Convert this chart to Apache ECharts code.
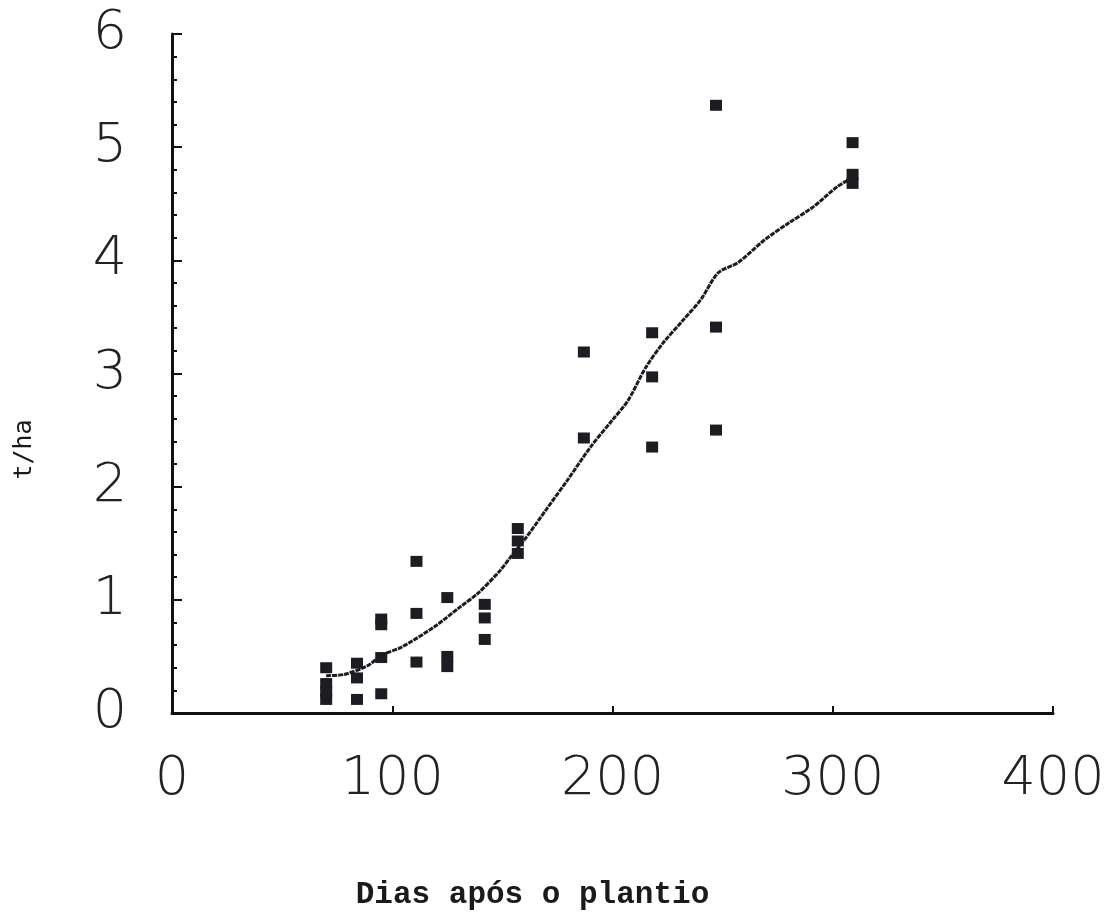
<!DOCTYPE html>
<html>
<head>
<meta charset="utf-8">
<script src="https://cdn.jsdelivr.net/npm/echarts@6/dist/echarts.min.js"></script>
<style>
  html, body { margin: 0; padding: 0; background: #ffffff; }
  #chart { width: 1119px; height: 917px; }
</style>
</head>
<body>
<div id="chart"></div>
<script>
// Observed yields (t/ha) by days after planting
const obsDays = [70, 70, 70, 70, 84, 84, 84, 95, 95, 95, 95, 111, 111, 111,
                 125, 125, 125, 142, 142, 142, 157, 157, 157, 187, 187,
                 218, 218, 218, 247, 247, 247, 309, 309, 309];
const obsYield = [0.40, 0.26, 0.19, 0.12, 0.44, 0.31, 0.12, 0.83, 0.78, 0.49, 0.17,
                  1.34, 0.88, 0.45, 1.02, 0.50, 0.41, 0.96, 0.84, 0.65,
                  1.63, 1.52, 1.41, 3.19, 2.43, 3.36, 2.97, 2.35,
                  5.37, 3.41, 2.50, 5.04, 4.76, 4.68];

// Fitted growth curve
const fitDays = [70, 78, 89, 95, 104, 119, 131, 139, 149, 155, 160, 170, 180, 190,
                 200, 207, 215, 223, 232, 240, 248, 257, 269, 280, 291, 302, 308];
const fitYield = [0.33, 0.34, 0.42, 0.51, 0.58, 0.76, 0.94, 1.06, 1.26, 1.41, 1.53,
                  1.80, 2.07, 2.35, 2.59, 2.76, 3.05, 3.27, 3.47, 3.65, 3.89, 3.98,
                  4.18, 4.33, 4.47, 4.65, 4.72];

const xTicks = [0, 100, 200, 300, 400];
const yTicks = [0, 1, 2, 3, 4, 5, 6];

const chart = echarts.init(document.getElementById('chart'), null, { renderer: 'canvas' });

const tickFont = {
  fontFamily: 'DejaVu Sans',
  fontWeight: 200,
  fontSize: 54,
  color: '#222222'
};

chart.setOption({
  backgroundColor: '#ffffff',
  animation: false,
  grid: { left: 172, right: 66, top: 34, bottom: 204, outerBoundsMode: 'none', containLabel: false },
  xAxis: {
    type: 'value',
    min: xTicks[0],
    max: xTicks[xTicks.length - 1],
    interval: 100,
    name: 'Dias após o plantio',
    nameLocation: 'middle',
    nameGap: 167,
    nameTextStyle: {
      fontFamily: 'Liberation Mono',
      fontWeight: 'bold',
      fontSize: 31,
      color: '#1a1a1a',
      padding: [0, 160, 0, 0]
    },
    axisLine: { show: true, onZero: false, lineStyle: { color: '#111', width: 3 } },
    axisTick: { show: true, inside: true, length: 7, lineStyle: { color: '#111', width: 2 } },
    minorTick: { show: false },
    splitLine: { show: false },
    axisLabel: Object.assign({ margin: 40 }, tickFont)
  },
  yAxis: {
    type: 'value',
    min: yTicks[0],
    max: yTicks[yTicks.length - 1],
    interval: 1,
    name: 't/ha',
    nameLocation: 'middle',
    nameGap: 135,
    nameRotate: 90,
    nameTextStyle: {
      fontFamily: 'DejaVu Sans Mono',
      fontSize: 25,
      color: '#1a1a1a',
      padding: [0, 152, 0, 0]
    },
    axisLine: { show: true, onZero: false, lineStyle: { color: '#111', width: 3 } },
    axisTick: { show: true, inside: true, length: 10, lineStyle: { color: '#111', width: 2 } },
    minorTick: { show: true, splitNumber: 5, length: 5, lineStyle: { color: '#111', width: 2 } },
    splitLine: { show: false },
    axisLabel: Object.assign({ margin: 45 }, tickFont)
  },
  series: [
    {
      type: 'scatter',
      data: obsDays.map((d, i) => [d, obsYield[i]]),
      symbol: 'rect',
      symbolSize: [12, 11],
      itemStyle: { color: '#1c1c22', opacity: 1 },
      z: 3
    },
    {
      type: 'line',
      data: fitDays.map((d, i) => [d, fitYield[i]]),
      smooth: 0.3,
      showSymbol: false,
      lineStyle: { color: '#1c1c22', width: 3, type: [5, 1] },
      z: 2
    }
  ]
});
</script>
</body>
</html>
